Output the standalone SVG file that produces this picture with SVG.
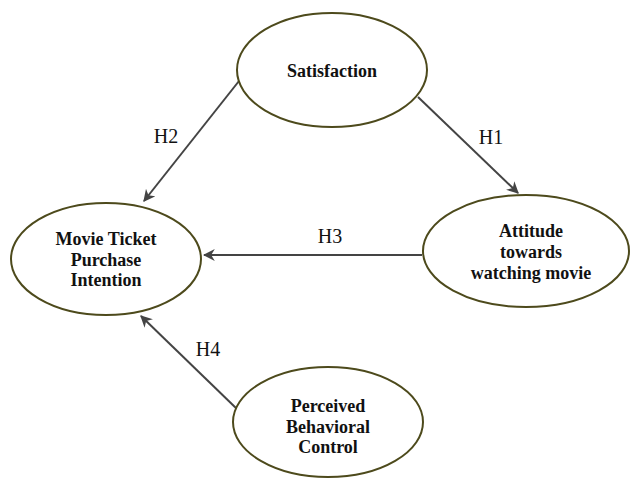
<svg xmlns="http://www.w3.org/2000/svg" width="630" height="480" viewBox="0 0 630 480">
<style>
.n{fill:#fff;stroke:#4d4a1c;stroke-width:2}
.t{font-family:'Liberation Serif','Times New Roman',serif;font-weight:bold;font-size:18px;text-anchor:middle;fill:#111}
.h{font-family:'Liberation Serif','Times New Roman',serif;font-size:20px;text-anchor:middle;fill:#111}
.c{stroke:#444;stroke-width:2;fill:none;marker-end:url(#a)}
</style>
<defs>
<marker id="a" viewBox="0 0 10 10" refX="9" refY="5" markerWidth="6" markerHeight="6" orient="auto" markerUnits="strokeWidth">
<path d="M0,0 L10,5 L0,10 L3,5 Z" fill="#444"/>
</marker>
</defs>
<rect width="630" height="480" fill="#fff"/>
<g id="connectors">
<line class="c" x1="239" y1="81" x2="144" y2="201"/>
<text class="h" x="166" y="143">H2</text>
<line class="c" x1="418" y1="97" x2="518" y2="193"/>
<text class="h" x="491" y="144">H1</text>
<line class="c" x1="422" y1="255" x2="204" y2="255"/>
<text class="h" x="330" y="243">H3</text>
<line class="c" x1="237" y1="409" x2="141" y2="316"/>
<text class="h" x="208" y="356">H4</text>
</g>
<g id="satisfaction">
<ellipse class="n" cx="332" cy="70" rx="95" ry="57"/>
<text class="t" x="332" y="77">Satisfaction</text>
</g>
<g id="intention">
<ellipse class="n" cx="106" cy="259" rx="95" ry="56"/>
<text class="t" x="106" y="245">Movie Ticket</text>
<text class="t" x="106" y="266">Purchase</text>
<text class="t" x="106" y="286">Intention</text>
</g>
<g id="attitude">
<ellipse class="n" cx="526" cy="251" rx="103" ry="56"/>
<text class="t" x="531" y="237">Attitude</text>
<text class="t" x="531" y="258">towards</text>
<text class="t" x="531" y="279">watching movie</text>
</g>
<g id="pbc">
<ellipse class="n" cx="328" cy="422" rx="95" ry="55"/>
<text class="t" x="328" y="412">Perceived</text>
<text class="t" x="328" y="433">Behavioral</text>
<text class="t" x="328" y="453">Control</text>
</g>
</svg>
